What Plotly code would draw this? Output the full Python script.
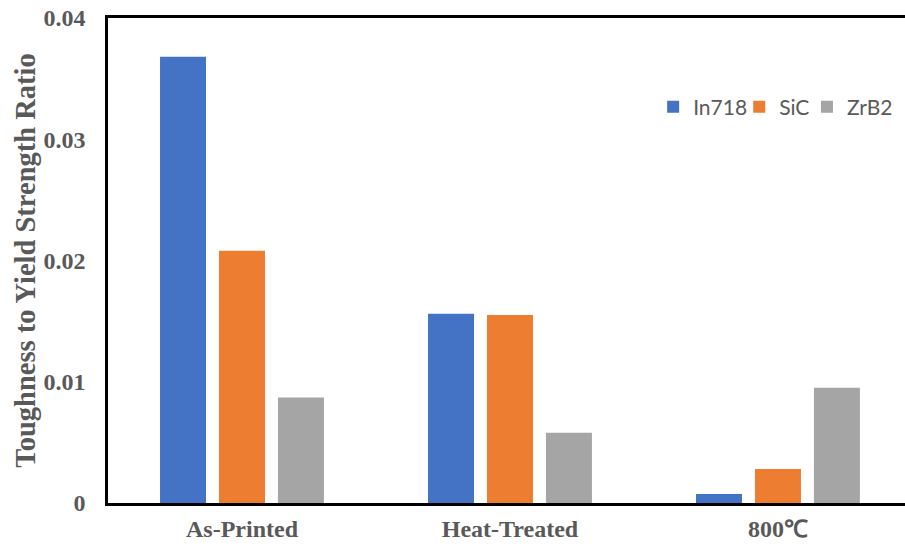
import plotly.graph_objects as go

categories = ["As-Printed", "Heat-Treated", "800\u2103"]
series_names = ["In718", "SiC", "ZrB2"]
in718 = [0.0368, 0.0156, 0.00075]
sic = [0.0208, 0.0155, 0.0028]
zrb2 = [0.0087, 0.0058, 0.0095]
colors = ["#4472C4", "#ED7D31", "#A5A5A5"]
y_ticks = [0, 0.01, 0.02, 0.03, 0.04]
y_tick_text = ["0", "0.01", "0.02", "0.03", "0.04"]

legend_ids = ["legend", "legend2", "legend3"]
legend_x = [0.684, 0.792, 0.877]

fig = go.Figure()
for name, vals, c, lid in zip(series_names, [in718, sic, zrb2], colors, legend_ids):
    fig.add_trace(go.Bar(x=[0, 1, 2], y=vals, name=name, legend=lid,
                         marker=dict(color=c, line=dict(width=0))))

legend_font = dict(family="Lato", size=21, color="#595959")
legends = {}
for lid, lx in zip(legend_ids, legend_x):
    legends[lid] = dict(orientation="h", x=lx, y=0.8165, xanchor="left", yanchor="middle",
                        font=legend_font, itemwidth=30, bgcolor="rgba(0,0,0,0)")

tick_font = dict(family="Liberation Serif", size=24, color="#595959", weight="bold")
fig.update_layout(
    width=905, height=547,
    margin=dict(l=108, r=0, t=18, b=44, autoexpand=False),
    plot_bgcolor="white", paper_bgcolor="white",
    barmode="group", bargap=0.34, bargroupgap=0.22,
    showlegend=True,
    xaxis=dict(range=[-0.5, 2.474], tickvals=[0, 1, 2], ticktext=categories,
               showline=True, linecolor="black", linewidth=2.5, mirror=True,
               ticks="", showgrid=False, zeroline=False, automargin=False,
               tickfont=tick_font, ticklabelstandoff=2, ticklabeloverflow="allow"),
    yaxis=dict(range=[0, 0.04], tickvals=y_ticks, ticktext=y_tick_text,
               showline=True, linecolor="black", linewidth=2.5, mirror=False,
               ticks="", showgrid=False, zeroline=False, automargin=False,
               tickfont=tick_font, ticklabelstandoff=15, ticklabeloverflow="allow",
               title=dict(text="Toughness to Yield Strength Ratio",
                          font=dict(family="Liberation Serif", size=28.5, color="#595959", weight="bold"),
                          standoff=0)),
    **legends,
)
fig.write_html("out.html", config={"displayModeBar": False},
               post_script="document.body.style.margin='0';document.body.style.overflow='hidden';")
